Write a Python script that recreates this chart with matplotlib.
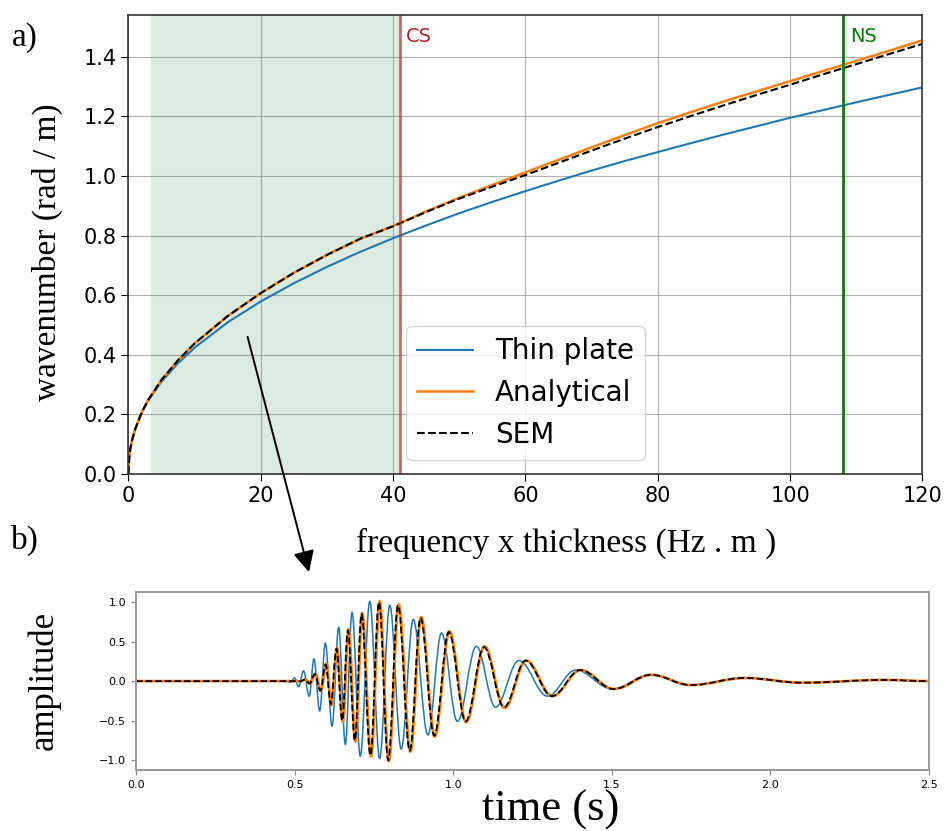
import matplotlib
matplotlib.use("Agg")
import matplotlib.pyplot as plt
from matplotlib.path import Path
from matplotlib.patches import PathPatch

# ---- panel a) dispersion curves (read off the picture) ----
freq = [0, 0.1, 0.25, 0.5, 1, 2, 3, 5, 7.5, 10, 15, 20, 25, 30, 35, 40, 45, 50, 55, 60, 65, 70, 75,
        80, 85, 90, 95, 100, 105, 110, 115, 120]
k_thin = [0, 0.053, 0.081, 0.110, 0.150, 0.206, 0.247, 0.310, 0.372, 0.424, 0.509, 0.579, 0.640,
          0.695, 0.745, 0.791, 0.834, 0.875, 0.913, 0.949, 0.984, 1.018, 1.050, 1.080, 1.110,
          1.139, 1.167, 1.195, 1.221, 1.247, 1.272, 1.297]
k_analytical = [0, 0.053, 0.081, 0.110, 0.150, 0.207, 0.249, 0.316, 0.382, 0.438, 0.530, 0.607,
                0.675, 0.735, 0.789, 0.832, 0.881, 0.927, 0.970, 1.012, 1.054, 1.096, 1.137, 1.177,
                1.214, 1.250, 1.284, 1.318, 1.352, 1.386, 1.420, 1.455]
k_sem = [0, 0.053, 0.081, 0.110, 0.150, 0.207, 0.249, 0.316, 0.382, 0.438, 0.530, 0.607, 0.675,
         0.735, 0.789, 0.831, 0.879, 0.924, 0.964, 1.003, 1.044, 1.085, 1.125, 1.164, 1.201,
         1.237, 1.272, 1.306, 1.341, 1.375, 1.409, 1.443]
band = (3.4, 41.1)
cs_freq = 41.1
ns_freq = 108.0

# ---- panel b) waveforms: extrema (time, amplitude) ----
t_thin = [0.0, 0.470, 0.487, 0.500, 0.513, 0.528, 0.546, 0.561, 0.579, 0.597, 0.618, 0.639, 0.660,
          0.681, 0.707, 0.737, 0.768, 0.800, 0.836, 0.874, 0.920, 0.963, 1.013, 1.073, 1.133, 1.207,
          1.297, 1.386, 1.502, 1.620, 1.745, 1.915, 2.095, 2.360, 2.5]
a_thin = [0, 0, -0.015, 0.04, -0.07, 0.13, -0.19, 0.28, -0.38, 0.48, -0.57, 0.68, -0.80,
          0.87, -0.95, 1.01, -0.98, 0.96, -0.86, 0.78, -0.68, 0.61, -0.51, 0.44, -0.33, 0.26,
          -0.19, 0.14, -0.10, 0.08, -0.05, 0.04, -0.02, 0.015, 0]
t_ana = [0.0, 0.520, 0.535, 0.549, 0.566, 0.583, 0.600, 0.616, 0.634, 0.652, 0.670, 0.692, 0.713,
         0.741, 0.768, 0.797, 0.828, 0.865, 0.899, 0.942, 0.988, 1.041, 1.099, 1.162, 1.230, 1.313,
         1.402, 1.507, 1.625, 1.750, 1.920, 2.100, 2.360, 2.5]
a_ana = [0, 0, 0.02, -0.03, 0.09, -0.12, 0.22, -0.30, 0.42, -0.51, 0.65, -0.76, 0.86,
         -0.95, 1.01, -1.01, 0.97, -0.89, 0.81, -0.70, 0.63, -0.52, 0.44, -0.34, 0.26, -0.19,
         0.14, -0.10, 0.08, -0.05, 0.04, -0.02, 0.015, 0]
t_sem = [0.0, 0.518, 0.533, 0.547, 0.564, 0.581, 0.598, 0.614, 0.632, 0.650, 0.668, 0.690, 0.711,
         0.739, 0.766, 0.795, 0.826, 0.863, 0.897, 0.940, 0.986, 1.039, 1.097, 1.160, 1.228, 1.311,
         1.400, 1.505, 1.623, 1.748, 1.918, 2.098, 2.358, 2.5]
a_sem = [0, 0, 0.02, -0.03, 0.09, -0.12, 0.21, -0.29, 0.41, -0.50, 0.64, -0.75, 0.85,
         -0.94, 1.00, -1.00, 0.96, -0.88, 0.80, -0.69, 0.62, -0.51, 0.43, -0.33, 0.26, -0.19,
         0.14, -0.10, 0.08, -0.05, 0.04, -0.02, 0.015, 0]


def wave_path(ts, vs):
    # smooth curve through the extrema (horizontal tangent at each one)
    verts = [(ts[0], vs[0])]
    codes = [Path.MOVETO]
    for i in range(len(ts) - 1):
        dt = ts[i + 1] - ts[i]
        verts += [(ts[i] + 0.3642 * dt, vs[i]), (ts[i + 1] - 0.3642 * dt, vs[i + 1]), (ts[i + 1], vs[i + 1])]
        codes += [Path.CURVE4] * 3
    return Path(verts, codes)


fig = plt.figure(figsize=(9.49, 8.31), dpi=100)
serif = "Liberation Serif"

# ---------- top panel ----------
ax1 = fig.add_axes([0.1354, 0.4296, 0.8366, 0.5524])
ax1.axvspan(band[0], band[1], color="#509b69", alpha=0.2, lw=0)
ax1.plot(freq, k_thin, color="C0", lw=1.5, label="Thin plate")
ax1.plot(freq, k_analytical, color="C1", lw=1.8, label="Analytical")
ax1.plot(freq, k_sem, color="k", lw=1.5, ls="--", label="SEM")
ax1.axvline(cs_freq, color="#a5403a", alpha=0.75, lw=2)
ax1.axvline(ns_freq, color="green", lw=2)
ax1.text(cs_freq + 0.9, 1.50, "CS", color="#b22222", fontsize=14, va="top")
ax1.text(ns_freq + 1.0, 1.50, "NS", color="green", fontsize=14, va="top")
ax1.set_xlim(0, 120)
ax1.set_ylim(0, 1.54)
ax1.set_xticks([0, 20, 40, 60, 80, 100, 120])
ax1.set_yticks([0.0, 0.2, 0.4, 0.6, 0.8, 1.0, 1.2, 1.4])
ax1.tick_params(labelsize=15, length=5)
ax1.grid(True, color="#b0b0b0", lw=0.8)
ax1.set_axisbelow(True)
for s in ax1.spines.values():
    s.set_color("#333333")
    s.set_linewidth(1.2)
ax1.legend(loc="lower center", fontsize=20)

# arrow from the dispersion plot down to the waveform panel
ax1.annotate("", xy=(309 / 949, 1 - 572 / 831), xycoords="figure fraction",
             xytext=(18.0, 0.46), textcoords="data",
             arrowprops=dict(arrowstyle="-|>", color="k", lw=1.4, mutation_scale=32,
                             shrinkA=0, shrinkB=0), annotation_clip=False)

fig.text(0.5964, 0.3466, "frequency x thickness (Hz . m )", family=serif, fontsize=24,
         ha="center", va="center")
fig.text(0.050, 0.6968, "wavenumber (rad / m)", family=serif, fontsize=24,
         ha="center", va="center", rotation=90)
fig.text(0.012, 0.955, "a)", family=serif, fontsize=24, va="center")
fig.text(0.012, 0.350, "b)", family=serif, fontsize=24, va="center")

# ---------- bottom panel ----------
ax2 = fig.add_axes([0.1433, 0.0734, 0.8357, 0.2139])
ax2.add_patch(PathPatch(wave_path(t_thin, a_thin), fill=False, edgecolor="C0", lw=1.1))
ax2.add_patch(PathPatch(wave_path(t_ana, a_ana), fill=False, edgecolor="C1", lw=2.0))
ax2.add_patch(PathPatch(wave_path(t_sem, a_sem), fill=False, edgecolor="k", lw=1.3, ls="--"))
ax2.set_xlim(0, 2.5)
ax2.set_ylim(-1.125, 1.125)
ax2.set_xticks([0.0, 0.5, 1.0, 1.5, 2.0, 2.5])
ax2.set_yticks([-1.0, -0.5, 0.0, 0.5, 1.0])
ax2.tick_params(labelsize=8, length=3.5, color="#888888")
for s in ax2.spines.values():
    s.set_color("#999999")
    s.set_linewidth(1.4)

fig.text(0.046, 0.1817, "amplitude", family=serif, fontsize=25,
         ha="center", va="center", rotation=90)
fig.text(0.5806, 0.026, "time (s)", family=serif, fontsize=32, ha="center", va="center")

fig.savefig("out.png", dpi=100)
